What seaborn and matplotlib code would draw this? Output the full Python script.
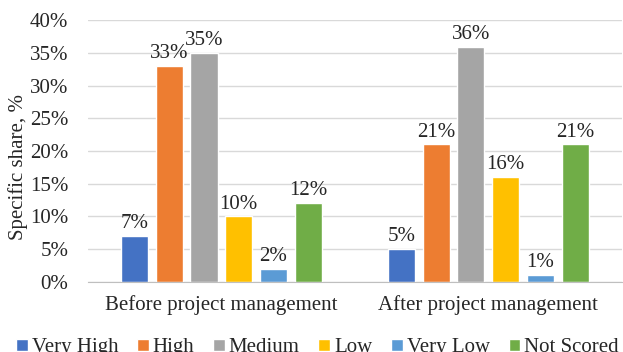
import numpy as np
import pandas as pd
import seaborn as sns
import matplotlib.pyplot as plt
from matplotlib.ticker import PercentFormatter

# data
groups = ['Before project management', 'After project management']
levels = ['Very High', 'High', 'Medium', 'Low', 'Very Low', 'Not Scored']
before = [7, 33, 35, 10, 2, 12]
after = [5, 21, 36, 16, 1, 21]
colors = ['#4472C4', '#ED7D31', '#A5A5A5', '#FFC000', '#5B9BD5', '#70AD47']

rows = []
for g, vals in zip(groups, [before, after]):
    for lv, v in zip(levels, vals):
        rows.append({'group': g, 'level': lv, 'share': v})
df = pd.DataFrame(rows)

sns.set_style('white')
plt.rcParams['font.family'] = ['Liberation Serif', 'DejaVu Serif']

fig = plt.figure(figsize=(6.23, 3.52), dpi=100)
ax = fig.add_axes([0.141, 0.2, 0.857, 0.742])

sns.barplot(data=df, x='group', y='share', hue='level', hue_order=levels,
            palette=colors, width=0.78, gap=0.22, saturation=1, ax=ax,
            legend=True)

for cont in ax.containers:
    ax.bar_label(cont, fmt='%g%%', fontsize=15, padding=2)

ax.set_ylim(0, 40)
ax.set_yticks(np.arange(0, 41, 5))
ax.yaxis.set_major_formatter(PercentFormatter(decimals=0))
ax.grid(axis='y', color='#D9D9D9', linewidth=1)
ax.set_axisbelow(True)
for s in ['left', 'right', 'top']:
    ax.spines[s].set_visible(False)
ax.spines['bottom'].set_color('#BFBFBF')
ax.tick_params(axis='y', labelsize=15, length=0, pad=14)
ax.tick_params(axis='x', labelsize=15, length=0, pad=10)
ax.set_xlabel('')
ax.set_ylabel('Specific share, %', fontsize=15)
ax.yaxis.set_label_coords(-0.112, 0.44)

ax.legend(loc='upper center', bbox_to_anchor=(0.43, -0.185), ncol=6,
          frameon=False, fontsize=15, handlelength=0.55, handleheight=0.55,
          handletextpad=0.2, columnspacing=0.9, borderaxespad=0)

fig.savefig('out.png', dpi=100)
